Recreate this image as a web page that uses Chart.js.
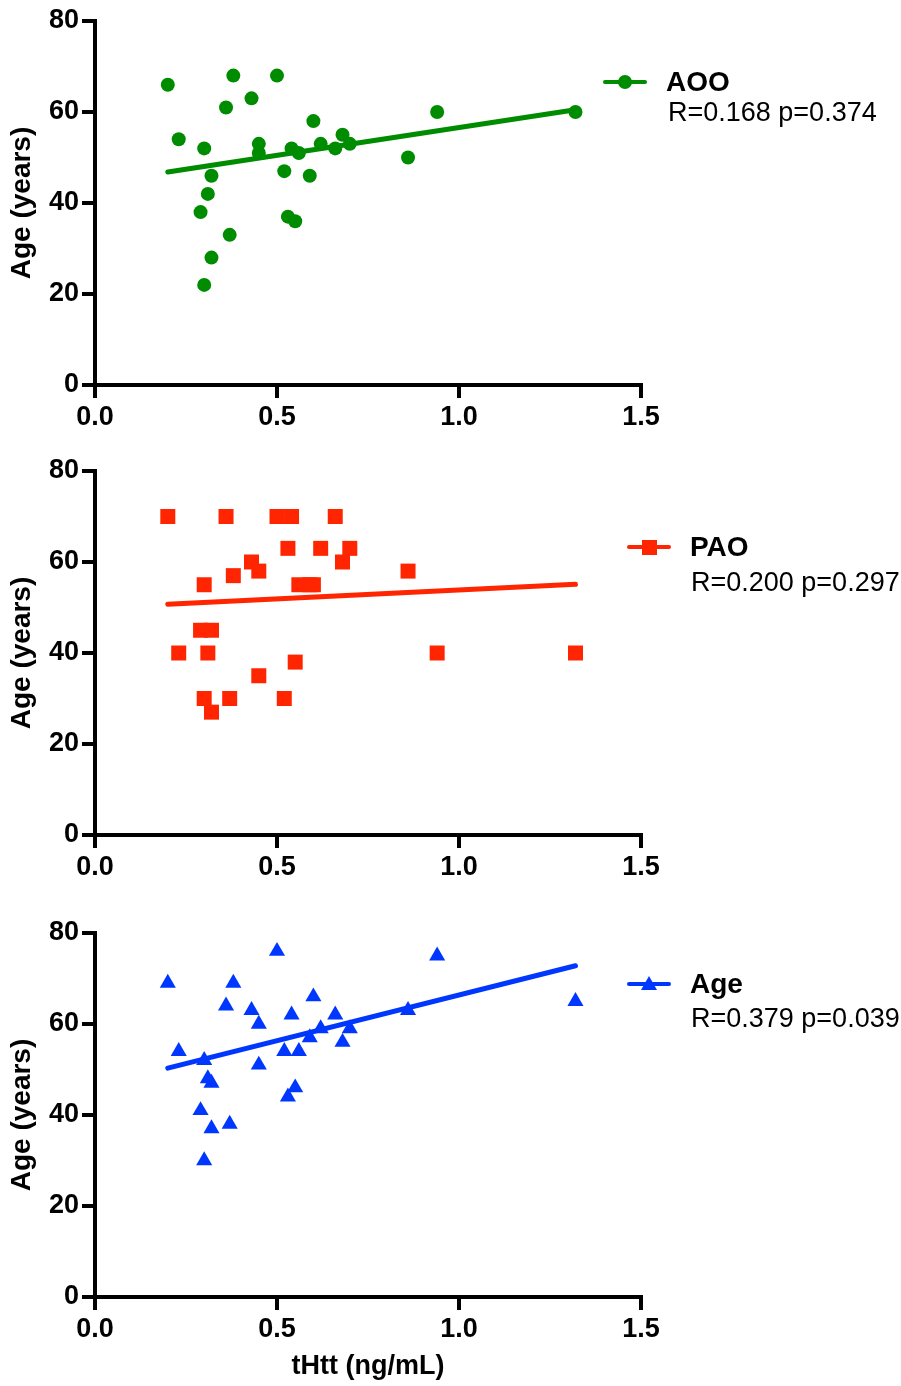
<!DOCTYPE html>
<html>
<head>
<meta charset="utf-8">
<title>tHtt vs age</title>
<script src="https://cdn.jsdelivr.net/npm/chart.js@4.4.1/dist/chart.umd.min.js"></script>
<style>
    body { margin: 0; background: #fff; font-family: "Liberation Sans", Arial, sans-serif; }
    #page { position: relative; width: 901px; height: 1386px; overflow: hidden; }
    .panel { position: absolute; left: 0; width: 901px; }
    .legend { position: absolute; color: #000; }
    .legend-line { position: absolute; height: 4px; width: 44px; border-radius: 2px; }
    .legend-marker { position: absolute; }
    .legend-name { position: absolute; font-weight: bold; font-size: 28px; line-height: 32px; white-space: nowrap; }
    .legend-stats { position: absolute; font-size: 27px; line-height: 30px; white-space: nowrap; }
</style>
</head>
<body>
<div id="page">
    <div class="panel" style="top:0;height:450px"><canvas id="aooChart"></canvas></div>
    <div class="panel" style="top:450px;height:450px"><canvas id="paoChart"></canvas></div>
    <div class="panel" style="top:912px;height:474px"><canvas id="ageChart"></canvas></div>

    <div class="legend" style="left:603px;top:82px">
        <div class="legend-line" style="left:0;top:-2px;background:#008c00"></div>
        <div class="legend-marker" style="left:15px;top:-7px;width:14px;height:14px;border-radius:50%;background:#008c00"></div>
        <div class="legend-name" style="left:63px;top:-16px">AOO</div>
        <div class="legend-stats" style="left:65px;top:15px">R=0.168 p=0.374</div>
    </div>
    <div class="legend" style="left:627px;top:547px">
        <div class="legend-line" style="left:0;top:-2px;background:#ff2500"></div>
        <div class="legend-marker" style="left:15px;top:-7px;width:15px;height:15px;background:#ff2500"></div>
        <div class="legend-name" style="left:63px;top:-16px">PAO</div>
        <div class="legend-stats" style="left:64px;top:20px">R=0.200 p=0.297</div>
    </div>
    <div class="legend" style="left:627px;top:984px">
        <div class="legend-line" style="left:0;top:-2px;background:#0037ff"></div>
        <div class="legend-marker" style="left:14px;top:-8px;width:16px;height:14px;background:#0037ff;clip-path:polygon(50% 0,100% 100%,0 100%)"></div>
        <div class="legend-name" style="left:63px;top:-16px">Age</div>
        <div class="legend-stats" style="left:64px;top:19px">R=0.379 p=0.039</div>
    </div>
</div>

<script>
// Values (one entry per subject, sorted by tHtt)
const tHtt = [0.20, 0.23, 0.29, 0.30, 0.30, 0.31, 0.32, 0.32, 0.36, 0.37, 0.38, 0.43, 0.45, 0.45, 0.50,
              0.52, 0.53, 0.54, 0.55, 0.56, 0.59, 0.60, 0.62, 0.66, 0.68, 0.70, 0.86, 0.94, 1.32];
const aoo  = [66, 54, 38, 52, 22, 42, 46, 28, 61, 33, 68, 63, 53, 51, 68,
              47, 37, 52, 36, 51, 46, 58, 53, 52, 55, 53, 50, 60, 60];
const pao  = [70, 40, 45, 55, 30, 40, 45, 27, 70, 30, 57, 60, 58, 35, 70,
              30, 63, 70, 38, 55, 55, 55, 63, 70, 60, 63, 58, 40, 40];
const age  = [69, 54, 41, 52, 30, 48, 47, 37, 64, 38, 69, 63, 60, 51, 76,
              54, 44, 62, 46, 54, 57, 66, 59, 62, 56, 59, 63, 75, 65];

// Regression line end points (as drawn in the figure)
const fitX   = [0.20, 1.32];
const aooFit = [46.8, 60.5];
const paoFit = [50.7, 55.1];
const ageFit = [50.3, 72.8];

// Axis ticks
const xTickLabels = ['0.0', '0.5', '1.0', '1.5'];
const yTickValues = [0, 20, 40, 60, 80];

const tickFont = { family: '"Liberation Sans", Arial, sans-serif', size: 27, weight: 'bold' };
const titleFont = { family: '"Liberation Sans", Arial, sans-serif', size: 28, weight: 'bold' };
const xTitleFont = { family: '"Liberation Sans", Arial, sans-serif', size: 27, weight: 'bold' };

// Helper: zip x and y arrays into point objects
function toPoints(xs, ys) {
    return xs.map((x, i) => ({ x: x, y: ys[i] }));
}

// Build one scatter panel with its regression line
function createPanel(canvasId, values, fit, color, pointStyle, radius, height, showXTitle) {
    const ctx = document.getElementById(canvasId);
    ctx.width = 901;
    ctx.height = height;

    return new Chart(ctx, {
        type: 'scatter',
        data: {
            datasets: [{
                data: toPoints(tHtt, values),
                pointStyle: pointStyle,
                pointRadius: radius,
                pointBackgroundColor: color,
                pointBorderWidth: 0,
                clip: false
            }, {
                type: 'line',
                data: toPoints(fitX, fit),
                borderColor: color,
                borderWidth: 5,
                borderCapStyle: 'round',
                pointRadius: 0,
                fill: false,
                clip: false
            }]
        },
        options: {
            responsive: false,
            animation: false,
            layout: { padding: { top: 21, right: 260, left: 0, bottom: 0 } },
            plugins: {
                legend: { display: false },
                tooltip: { enabled: false }
            },
            scales: {
                x: {
                    type: 'linear',
                    min: 0,
                    max: 1.5,
                    afterFit: s => { s.height = height - 385; },
                    afterBuildTicks: s => { s.ticks = xTickLabels.map(t => ({ value: parseFloat(t) })); },
                    ticks: {
                        color: '#000',
                        font: tickFont,
                        padding: 3,
                        maxRotation: 0,
                        callback: (v, i) => xTickLabels[i]
                    },
                    grid: {
                        drawOnChartArea: false,
                        drawTicks: true,
                        tickLength: 13,
                        color: '#000',
                        lineWidth: 4
                    },
                    border: { display: true, color: '#000', width: 4 },
                    title: {
                        display: showXTitle,
                        text: 'tHtt (ng/mL)',
                        color: '#000',
                        font: xTitleFont,
                        padding: { top: 0, bottom: 3 }
                    }
                },
                y: {
                    min: 0,
                    max: 80,
                    afterFit: s => { s.width = 95; },
                    afterBuildTicks: s => { s.ticks = yTickValues.map(v => ({ value: v })); },
                    ticks: {
                        color: '#000',
                        font: tickFont,
                        padding: 3
                    },
                    grid: {
                        drawOnChartArea: false,
                        drawTicks: true,
                        tickLength: 13,
                        color: '#000',
                        lineWidth: 4
                    },
                    border: { display: true, color: '#000', width: 4 },
                    title: {
                        display: true,
                        text: 'Age (years)',
                        color: '#000',
                        font: titleFont,
                        padding: { top: 5, bottom: 0 }
                    }
                }
            }
        }
    });
}

createPanel('aooChart', aoo, aooFit, '#008c00', 'circle', 7, 450, false);
createPanel('paoChart', pao, paoFit, '#ff2500', 'rect', 10.6, 450, false);
createPanel('ageChart', age, ageFit, '#0037ff', 'triangle', 9.3, 474, true);
</script>
</body>
</html>
